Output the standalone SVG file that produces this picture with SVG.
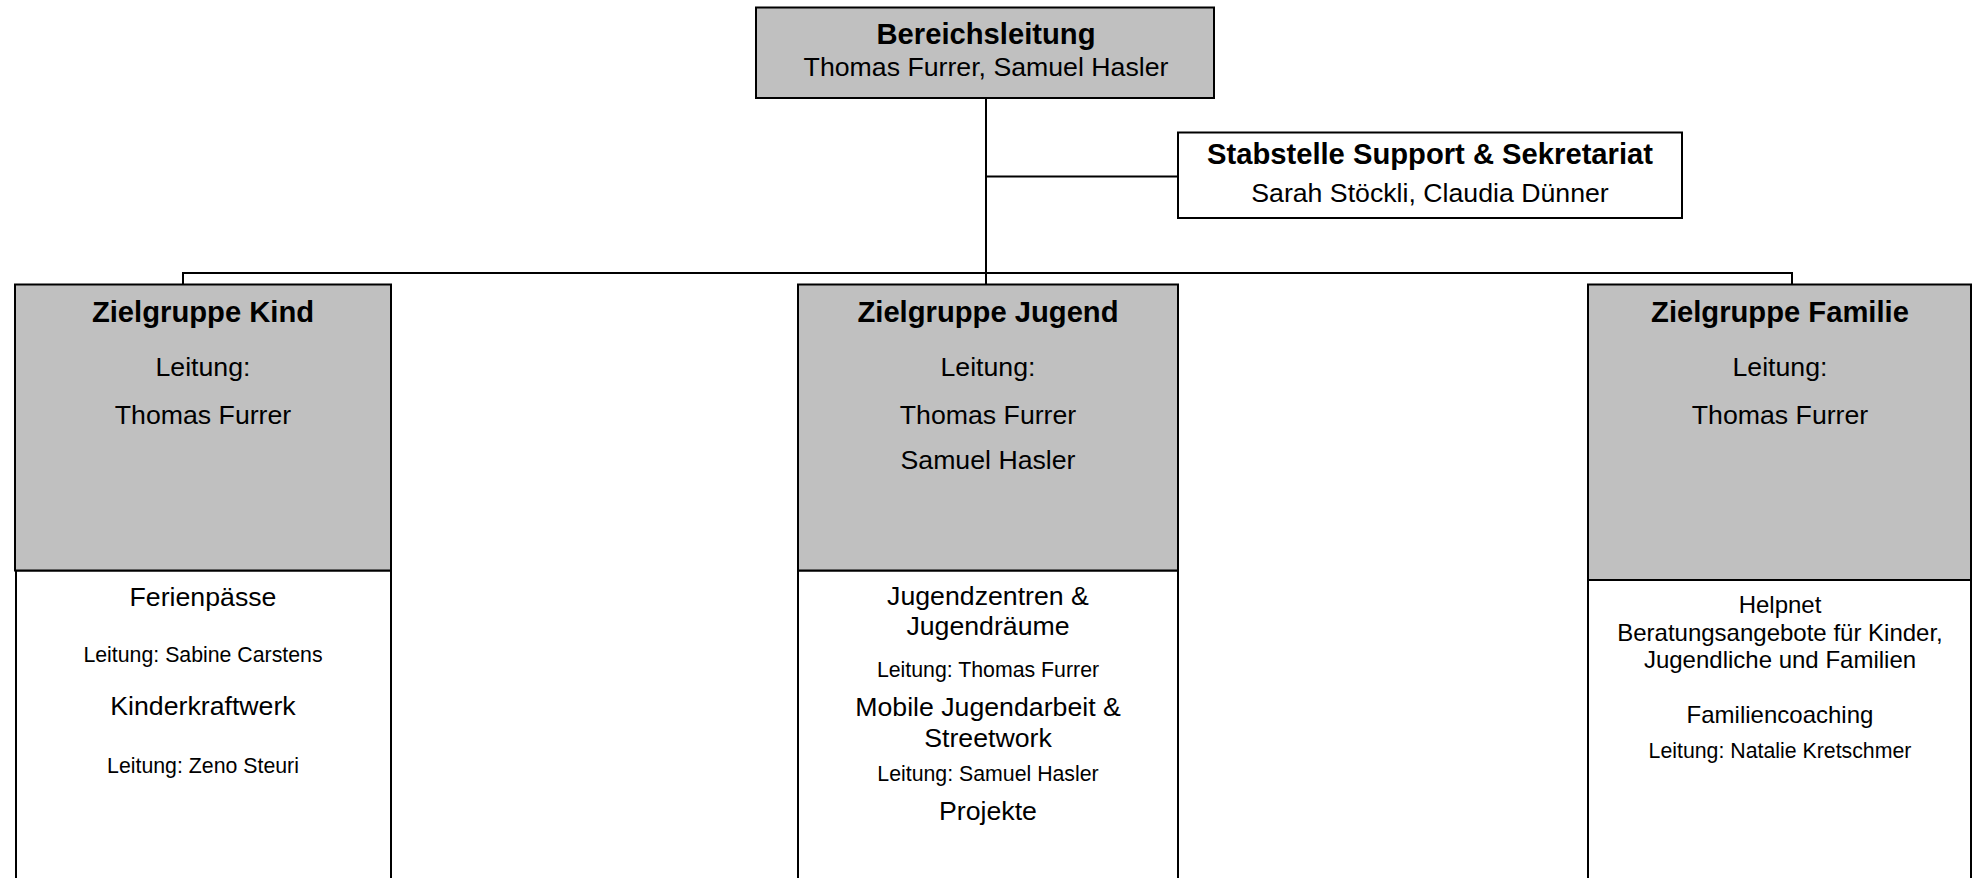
<svg xmlns="http://www.w3.org/2000/svg" width="1973" height="878" viewBox="0 0 1973 878">
<style>
.box{stroke:#000;stroke-width:2}
.gray{fill:#C0C0C0}
.white{fill:#fff}
.ln{stroke:#000;stroke-width:2;fill:none}
text{font-family:"Liberation Sans",Arial,sans-serif;fill:#000;text-anchor:middle}
.b{font-weight:bold;font-size:29.2px}
.r{font-size:26.7px}
.s{font-size:21.3px}
.m{font-size:24px}
</style>
<rect width="1973" height="878" fill="#fff"/>
<g id="connectors">
<line class="ln" x1="986" y1="98" x2="986" y2="284.5"/>
<line class="ln" x1="986" y1="176.5" x2="1178" y2="176.5"/>
<polyline class="ln" points="183,284.5 183,273 1792,273 1792,284.5"/>
</g>
<g id="bereichsleitung">
<rect class="box gray" x="756" y="7.5" width="458" height="90.5"/>
<text class="b" x="986" y="44">Bereichsleitung</text>
<text class="r" x="986" y="76">Thomas Furrer, Samuel Hasler</text>
</g>
<g id="stabstelle">
<rect class="box white" x="1178" y="132.5" width="504" height="85.5"/>
<text class="b" x="1430" y="164">Stabstelle Support &amp; Sekretariat</text>
<text class="r" x="1430" y="202">Sarah Stöckli, Claudia Dünner</text>
</g>
<g id="kind">
<rect class="box white" x="16" y="570.5" width="375" height="320"/>
<rect class="box gray" x="15" y="284.5" width="376" height="286"/>
<text class="b" x="203" y="322">Zielgruppe Kind</text>
<text class="r" x="203" y="376">Leitung:</text>
<text class="r" x="203" y="423.5">Thomas Furrer</text>
<text class="r" x="203" y="606">Ferienpässe</text>
<text class="s" x="203" y="662">Leitung: Sabine Carstens</text>
<text class="r" x="203" y="715">Kinderkraftwerk</text>
<text class="s" x="203" y="773">Leitung: Zeno Steuri</text>
</g>
<g id="jugend">
<rect class="box white" x="798" y="570.5" width="380" height="320"/>
<rect class="box gray" x="798" y="284.5" width="380" height="286"/>
<text class="b" x="988" y="322">Zielgruppe Jugend</text>
<text class="r" x="988" y="376">Leitung:</text>
<text class="r" x="988" y="423.5">Thomas Furrer</text>
<text class="r" x="988" y="469">Samuel Hasler</text>
<text class="r" x="988" y="605">Jugendzentren &amp;</text>
<text class="r" x="988" y="635">Jugendräume</text>
<text class="s" x="988" y="676.5">Leitung: Thomas Furrer</text>
<text class="r" x="988" y="716">Mobile Jugendarbeit &amp;</text>
<text class="r" x="988" y="747">Streetwork</text>
<text class="s" x="988" y="781">Leitung: Samuel Hasler</text>
<text class="r" x="988" y="820">Projekte</text>
</g>
<g id="familie">
<rect class="box white" x="1588" y="580" width="383" height="310"/>
<rect class="box gray" x="1588" y="284.5" width="383" height="295.5"/>
<text class="b" x="1780" y="322">Zielgruppe Familie</text>
<text class="r" x="1780" y="376">Leitung:</text>
<text class="r" x="1780" y="423.5">Thomas Furrer</text>
<text class="m" x="1780" y="613">Helpnet</text>
<text class="m" x="1780" y="640.5">Beratungsangebote für Kinder,</text>
<text class="m" x="1780" y="668">Jugendliche und Familien</text>
<text class="m" x="1780" y="723">Familiencoaching</text>
<text class="s" x="1780" y="757.5">Leitung: Natalie Kretschmer</text>
</g>
</svg>
